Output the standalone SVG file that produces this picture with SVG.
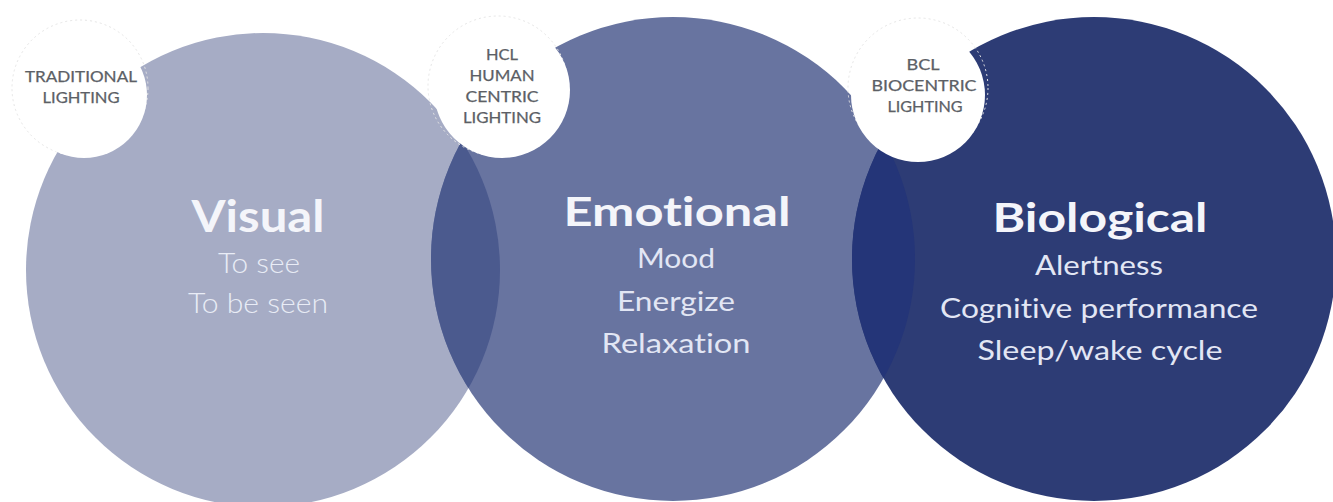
<svg xmlns="http://www.w3.org/2000/svg" width="1333" height="502" viewBox="0 0 1333 502">
  <style>
    text { font-family: Lato, "Liberation Sans", sans-serif; font-variant-ligatures: none; text-anchor: middle; }
    .title { font-weight: 700; fill: #f4f5fa; }
    .sub { font-weight: 400; fill: #e2e6f4; }
    .subLight { font-weight: 300; fill: #e9ecf6; }
    .tag { font-weight: 400; font-size: 15px; fill: #5c5f66; stroke: #5c5f66; stroke-width: 0.25; }
    .tagCircle { fill: #ffffff; }
    .sketch { fill: none; stroke: #e6e6e6; stroke-width: 1; stroke-dasharray: 2 3; }
  </style>
  <defs>
    <clipPath id="clipC1"><circle cx="263" cy="270" r="237"/></clipPath>
    <clipPath id="clipC2"><circle cx="673" cy="259" r="242"/></clipPath>
  </defs>
  <rect width="1333" height="502" fill="#ffffff"/>

  <g id="node-visual">
    <circle cx="263" cy="270" r="237" fill="#a6acc5"/>
    <text class="title" x="258" y="232" font-size="44" textLength="133" lengthAdjust="spacingAndGlyphs">Visual</text>
    <text class="subLight" x="259" y="273" font-size="28" textLength="82" lengthAdjust="spacingAndGlyphs">To see</text>
    <text class="subLight" x="258" y="313" font-size="28" textLength="140" lengthAdjust="spacingAndGlyphs">To be seen</text>
  </g>

  <g id="node-emotional">
    <circle cx="673" cy="259" r="242" fill="#6874a0"/>
    <text class="title" x="677" y="226" font-size="41" textLength="227" lengthAdjust="spacingAndGlyphs">Emotional</text>
    <text class="sub" x="676" y="268" font-size="26" textLength="78" lengthAdjust="spacingAndGlyphs">Mood</text>
    <text class="sub" x="676" y="311" font-size="26" textLength="118" lengthAdjust="spacingAndGlyphs">Energize</text>
    <text class="sub" x="676" y="353" font-size="26" textLength="149" lengthAdjust="spacingAndGlyphs">Relaxation</text>
  </g>

  <g id="node-biological">
    <circle cx="1094" cy="259" r="242" fill="#2d3c75"/>
    <text class="title" x="1100" y="232" font-size="41" textLength="215" lengthAdjust="spacingAndGlyphs">Biological</text>
    <text class="sub" x="1099" y="275" font-size="26" textLength="128" lengthAdjust="spacingAndGlyphs">Alertness</text>
    <text class="sub" x="1099" y="318" font-size="26" textLength="318" lengthAdjust="spacingAndGlyphs">Cognitive performance</text>
    <text class="sub" x="1100" y="360" font-size="26" textLength="245" lengthAdjust="spacingAndGlyphs">Sleep/wake cycle</text>
  </g>

  <g id="overlaps">
    <circle cx="673" cy="259" r="242" fill="#4b5a8e" clip-path="url(#clipC1)"/>
    <circle cx="1094" cy="259" r="242" fill="#243578" clip-path="url(#clipC2)"/>
  </g>

  <g id="tag-traditional">
    <circle class="sketch" cx="80" cy="88" r="68"/>
    <circle class="tagCircle" cx="84" cy="95" r="63"/>
    <text class="tag" x="81" y="82" textLength="112" lengthAdjust="spacingAndGlyphs">TRADITIONAL</text>
    <text class="tag" x="81" y="103" textLength="77" lengthAdjust="spacingAndGlyphs">LIGHTING</text>
  </g>

  <g id="tag-hcl">
    <circle class="sketch" cx="498" cy="86" r="70"/>
    <circle class="tagCircle" cx="502" cy="90" r="68"/>
    <text class="tag" x="502" y="60" textLength="32" lengthAdjust="spacingAndGlyphs">HCL</text>
    <text class="tag" x="502" y="81" textLength="65" lengthAdjust="spacingAndGlyphs">HUMAN</text>
    <text class="tag" x="502" y="102" textLength="73" lengthAdjust="spacingAndGlyphs">CENTRIC</text>
    <text class="tag" x="502" y="123" textLength="78" lengthAdjust="spacingAndGlyphs">LIGHTING</text>
  </g>

  <g id="tag-bcl">
    <circle class="sketch" cx="918" cy="88" r="70"/>
    <circle class="tagCircle" cx="918" cy="95" r="67"/>
    <text class="tag" x="923" y="70" textLength="33" lengthAdjust="spacingAndGlyphs">BCL</text>
    <text class="tag" x="924" y="91" textLength="105" lengthAdjust="spacingAndGlyphs">BIOCENTRIC</text>
    <text class="tag" x="925" y="112" textLength="75" lengthAdjust="spacingAndGlyphs">LIGHTING</text>
  </g>
</svg>
